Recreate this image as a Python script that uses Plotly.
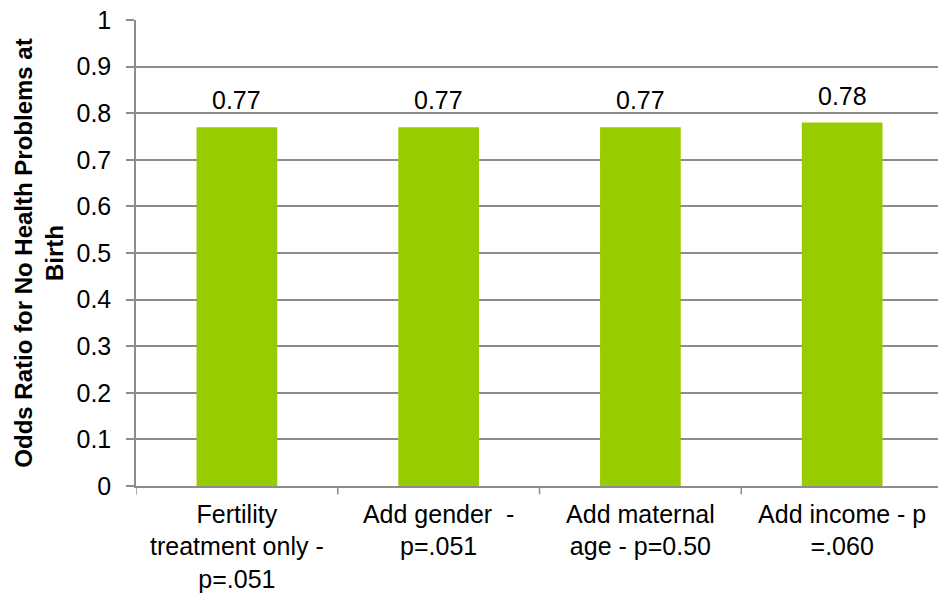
import plotly.graph_objects as go

# Odds ratios for the fertility-treatment model as controls are added
categories = [
    "Fertility<br>treatment only -<br>p=.051",
    "Add gender  -<br>p=.051",
    "Add maternal<br>age - p=0.50",
    "Add income - p<br>=.060",
]
odds_ratios = [0.77, 0.77, 0.77, 0.78]
value_labels = ["0.77", "0.77", "0.77", "0.78"]
y_ticks = [0, 0.1, 0.2, 0.3, 0.4, 0.5, 0.6, 0.7, 0.8, 0.9, 1]
y_tick_text = ["0", "0.1", "0.2", "0.3", "0.4", "0.5", "0.6", "0.7", "0.8", "0.9", "1"]

FONT = "Liberation Sans, Arial, sans-serif"
GRID = "#8c8c8c"
FS = 25

xs = list(range(len(categories)))

fig = go.Figure(
    go.Bar(
        x=xs,
        y=odds_ratios,
        width=0.4,
        marker=dict(color="#99cc00", line=dict(width=0)),
    )
)

# Value labels above each bar
for x, v, t in zip(xs, odds_ratios, value_labels):
    fig.add_annotation(
        x=x, y=v, text=t, showarrow=False,
        xanchor="center", yanchor="bottom", yshift=11,
        font=dict(family=FONT, size=FS, color="#000000"),
    )

fig.update_layout(
    width=938,
    height=593,
    margin=dict(l=136, r=0, t=20, b=107, autoexpand=False),
    paper_bgcolor="white",
    plot_bgcolor="white",
    showlegend=False,
    font=dict(family=FONT, size=FS, color="#000000"),
    xaxis=dict(
        tickmode="array",
        tickvals=xs,
        ticktext=categories,
        range=[-0.5, 3.475],
        showgrid=False,
        showline=True,
        linecolor=GRID,
        linewidth=1.5,
        ticks="",
        ticklabelstandoff=5,
        tickfont=dict(family=FONT, size=FS, color="#000000"),
        zeroline=False,
        automargin=False,
    ),
    yaxis=dict(
        range=[0, 1],
        tickmode="array",
        tickvals=y_ticks,
        ticktext=y_tick_text,
        showgrid=True,
        gridcolor=GRID,
        gridwidth=1.5,
        showline=True,
        linecolor=GRID,
        linewidth=1.5,
        ticks="outside",
        ticklen=8,
        tickcolor=GRID,
        tickwidth=1.5,
        ticklabelstandoff=10,
        tickfont=dict(family=FONT, size=FS, color="#000000"),
        zeroline=False,
        automargin=False,
        title=dict(
            text="<b>Odds Ratio for No Health Problems at<br>Birth</b>",
            font=dict(family=FONT, size=24, color="#000000"),
            standoff=6,
        ),
    ),
)

# Category separators drawn as short ticks below the axis
for b in [-0.5, 0.5, 1.5, 2.5, 3.5]:
    fig.add_shape(
        type="line",
        xref="x",
        yref="paper",
        x0=b,
        x1=b,
        y0=0,
        y1=-0.018,
        line=dict(color=GRID, width=1.5),
    )

fig.write_html("out.html")
